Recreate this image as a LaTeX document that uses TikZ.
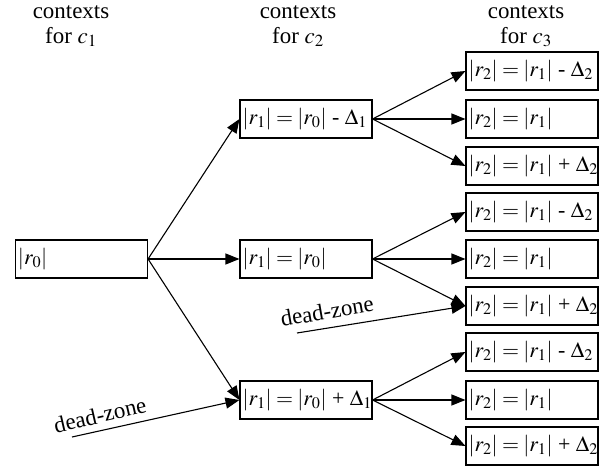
\documentclass[tikz,border=0pt]{standalone}
\usepackage{mathptmx}
\usepackage[no-math]{fontspec}
\setmainfont{Liberation Serif}
\newfontfamily\tnr{Liberation Serif}
\usetikzlibrary{arrows.meta}
\newcommand{\bx}[1]{\makebox[127bp][l]{\thickmuskip=3.5mu #1}}
\tikzset{
  box/.style={draw, line width=1.1bp, minimum height=38bp, minimum width=132bp, inner xsep=2.5bp, inner ysep=0bp, font=\tnr\fontsize{22}{26}\selectfont},
  hdr/.style={align=center, font=\tnr\fontsize{23}{25}\selectfont, inner sep=0pt},
  arr/.style={line width=1.1bp, -{Triangle[length=14bp,width=11bp]}},
  dz/.style={font=\tnr\fontsize{23}{26}\selectfont, inner sep=0pt}
}
\begin{document}
\begin{tikzpicture}[x=1bp,y=-1bp]
\useasboundingbox (0,0) rectangle (607,467);
\node[hdr] (h1) at (71,26) {contexts\\for $c_1$};
\node[hdr] (h2) at (298,26) {contexts\\for $c_2$};
\node[hdr] (h3) at (526,26) {contexts\\for $c_3$};

\node[box] (r0) at (81.5,259) {\bx{$|r_0|$}};
\node[box] (m1) at (306,119) {\bx{$|r_1| = |r_0|$ - $\Delta_1$}};
\node[box] (m2) at (306,259) {\bx{$|r_1| = |r_0|$}};
\node[box] (m3) at (306,400) {\bx{$|r_1| = |r_0|$ + $\Delta_1$}};

\node[box] (a1) at (532,71) {\bx{$|r_2| = |r_1|$ - $\Delta_2$}};
\node[box] (a2) at (532,119) {\bx{$|r_2| = |r_1|$}};
\node[box] (a3) at (532,166) {\bx{$|r_2| = |r_1|$ + $\Delta_2$}};
\node[box] (b1) at (532,212) {\bx{$|r_2| = |r_1|$ - $\Delta_2$}};
\node[box] (b2) at (532,259) {\bx{$|r_2| = |r_1|$}};
\node[box] (b3) at (532,306) {\bx{$|r_2| = |r_1|$ + $\Delta_2$}};
\node[box] (c1) at (532,352) {\bx{$|r_2| = |r_1|$ - $\Delta_2$}};
\node[box] (c2) at (532,400) {\bx{$|r_2| = |r_1|$}};
\node[box] (c3) at (532,446) {\bx{$|r_2| = |r_1|$ + $\Delta_2$}};

\foreach \m in {m1,m2,m3} \draw[arr] (r0.east) -- (\m.west);
\foreach \a in {a1,a2,a3} \draw[arr] (m1.east) -- (\a.west);
\foreach \a in {b1,b2,b3} \draw[arr] (m2.east) -- (\a.west);
\foreach \a in {c1,c2,c3} \draw[arr] (m3.east) -- (\a.west);

\coordinate (d1) at (297,333);
\coordinate (d2) at (72,437);
\draw[arr] (d1) -- (b3.west);
\draw[arr] (d2) -- (m3.west);
\node[dz, rotate=10] (t1) at (327,311) {dead-zone};
\node[dz, rotate=13] (t2) at (100,415) {dead-zone};
\end{tikzpicture}
\end{document}
